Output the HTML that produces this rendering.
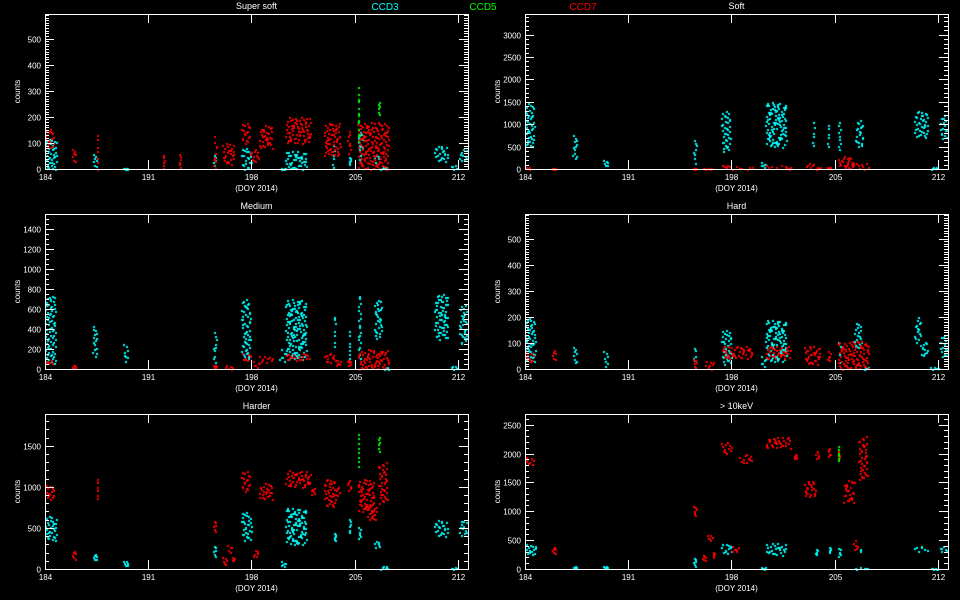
<!DOCTYPE html>
<html><head><meta charset="utf-8"><style>
html,body{margin:0;padding:0;background:#000;width:960px;height:600px;overflow:hidden}
#wrap{position:relative;width:960px;height:600px}
canvas,svg{position:absolute;left:0;top:0}
text{font-family:"Liberation Sans",sans-serif;fill:#fff}
</style></head><body>
<div id="wrap">
<canvas id="pts" width="960" height="600"></canvas>
<svg id="ax" width="960" height="600"></svg>
</div>
<script>
// ---- data ----
const panelTitles=["Super soft","Soft","Medium","Hard","Harder","> 10keV"];
const yMax=[594,3460,1550,594,1886,2685];
const yMajor=[100,500,200,100,500,500];
const yMinorN=[10,5,4,10,5,5];
const xTicks=[184,191,198,205,212];
const xRange=[184,212.7];
// clusters: [dayStart, dayEnd, low, high]
const cyan0=[[184,184.8,0,120],[187.2,187.5,0,60],[189.3,189.6,0,5],[195.4,195.6,0,60],[197.3,198,0,80],[199.9,200.3,0,5],[200.3,201.7,0,70],[203.5,203.6,0,100],[204.6,204.7,20,50],[205.2,205.5,30,150],[206.3,206.7,20,60],[206.7,207.3,0,10],[210.4,211.3,30,90],[211.5,212,0,15],[212.1,212.6,30,80]];
const red0=[[184,184.6,80,160],[185.8,186.1,20,80],[187.5,187.55,0,130],[192,192.05,0,60],[193.1,193.15,0,60],[195.4,195.6,0,130],[196,196.8,20,100],[197.3,197.9,100,180],[197.9,198.5,30,80],[198.5,199.4,80,170],[200.3,202,100,200],[202.9,204,50,180],[204.5,204.7,50,150],[205.2,207.3,0,180]];
const green0=[[205.2,205.25,100,340],[206.6,206.65,200,270]];
const cyan1=[[184,184.6,500,1500],[187.2,187.5,200,800],[189.3,189.6,50,200],[195.4,195.6,100,700],[197.3,197.9,400,1300],[199.9,200.3,50,150],[200.3,201.7,500,1500],[203.5,203.6,500,1100],[204.5,204.6,500,1100],[205.2,205.4,400,1100],[206.4,206.9,500,1100],[211.5,212,0,50],[210.4,211.3,700,1300],[212.1,212.6,700,1200]];
const red1=[[184,184.4,0,60],[185.8,186.1,0,30],[195.4,195.6,0,30],[196,196.8,0,30],[197.3,197.9,30,100],[198,199.4,0,80],[200.3,201.7,30,100],[201.7,202,0,60],[202.9,203.7,50,150],[203.7,204,0,50],[204.5,204.7,0,60],[205.2,206.3,50,300],[205.6,207.3,0,150]];
const green1=[];
const cyan2=[[184,184.7,50,750],[187.2,187.5,100,450],[189.3,189.6,80,250],[195.4,195.6,50,400],[197.3,197.9,100,700],[199.9,200.3,80,200],[200.3,201.7,100,700],[203.6,203.65,200,550],[204.6,204.65,100,450],[205.2,205.4,100,750],[206.3,206.8,300,700],[207,207.3,0,20],[210.4,211.3,300,750],[211.5,212,0,30],[212.1,212.6,250,650]];
const red2=[[184,184.6,50,100],[185.8,186.1,0,50],[195.4,195.6,0,40],[196.2,196.8,0,40],[197.3,198,80,160],[198,198.5,20,80],[198.5,199.4,70,140],[200.3,202,90,160],[202.9,203.7,70,170],[203.7,204,30,100],[204.5,204.7,30,100],[205.2,207.3,0,200]];
const green2=[];
const cyan3=[[184,184.7,30,200],[187.2,187.5,20,90],[189.3,189.6,10,70],[195.4,195.6,0,90],[197.3,198,20,150],[199.9,200.3,10,50],[200.3,201.7,30,190],[205.2,205.4,20,110],[206.3,206.8,80,180],[207,207.3,0,10],[210.4,210.8,100,200],[210.8,211.3,50,110],[211.5,212,0,10],[212.1,212.6,50,130]];
const red3=[[184,184.6,30,70],[185.8,186.1,30,80],[195.4,195.6,0,40],[196.2,196.8,0,35],[197.3,199.4,40,90],[200.3,202,40,90],[202.9,204,20,90],[204.5,204.7,30,70],[205.2,207.3,0,110]];
const green3=[];
const cyan4=[[184,184.8,350,650],[187.2,187.5,100,200],[189.3,189.6,30,100],[195.4,195.6,150,300],[197.3,198,350,700],[199.9,200.3,30,100],[200.3,201.7,300,750],[203.6,203.7,350,450],[204.6,204.7,450,650],[205.2,205.4,350,550],[206.3,206.7,250,350],[206.7,207.3,0,40],[210.4,211.3,400,600],[211.5,212,0,20],[212.1,212.6,400,600]];
const red4=[[184,184.6,850,1050],[185.8,186.1,100,250],[187.5,187.55,800,1100],[195.4,195.6,450,600],[196,196.3,50,150],[196.3,196.6,200,300],[196.7,196.8,100,150],[197.3,197.9,950,1200],[198,198.5,150,250],[198.5,199.4,850,1050],[200.3,202,1000,1200],[202,202.3,900,1000],[202.9,203.7,750,1100],[203.7,204,900,1000],[204.5,204.7,950,1100],[205.2,206.3,700,1100],[205.8,206.5,600,800],[206.6,207.2,800,1300]];
const green4=[[205.2,205.25,1200,1700],[206.6,206.65,1400,1650]];
const cyan5=[[184,184.8,250,450],[187.2,187.5,0,60],[189.3,189.6,0,50],[195.4,195.6,50,200],[197.3,198,250,450],[199.9,200.3,0,40],[200.3,201.7,250,450],[203.7,203.8,250,350],[204.6,204.7,300,400],[205.2,205.4,200,400],[206.3,207.3,0,30],[206.7,206.75,300,350],[210.4,211.3,300,400],[211.5,212,0,20],[212.1,212.6,300,400]];
const red5=[[184,184.6,1800,1950],[185.8,186.1,250,400],[195.4,195.6,900,1100],[196,196.3,150,250],[196.3,196.7,500,600],[196.7,196.8,200,300],[197.3,198,2000,2200],[198,198.5,300,400],[198.5,199.4,1850,2000],[200.3,202,2100,2300],[202.2,202.4,1900,2000],[202.9,203.7,1250,1550],[203.7,203.9,1900,2050],[204.5,204.7,1950,2100],[205.2,205.3,1900,2100],[205.6,206.3,1150,1550],[206.2,206.6,350,500],[206.6,207.2,1550,2300]];
const green5=[[205.2,205.25,1850,2200]];
const cyanSets=[cyan0,cyan1,cyan2,cyan3,cyan4,cyan5];
const redSets=[red0,red1,red2,red3,red4,red5];
const greenSets=[green0,green1,green2,green3,green4,green5];

// ---- layout ----
const colX=[45,525], rowY=[14,214,414], PW=423, PH=155;
function frame(p){return {x:colX[p%2],y:rowY[Math.floor(p/2)]};}
function xScale(p,d){const f=frame(p);return f.x+(d-xRange[0])/(xRange[1]-xRange[0])*PW;}
function yScale(p,v){const f=frame(p);return f.y+PH-v/yMax[p]*PH;}
function halton(i,b){let f=1,r=0;while(i>0){f/=b;r+=f*(i%b);i=Math.floor(i/b);}return r;}

const ctx=document.getElementById('pts').getContext('2d');
ctx.fillStyle='#000';ctx.fillRect(0,0,960,600);
function drawClusters(p,set,color){
  ctx.fillStyle=color;
  set.forEach((c,i)=>{
    const wpx=Math.max(2,xScale(p,c[1])-xScale(p,c[0]));
    const hpx=Math.max(2,yScale(p,c[2])-yScale(p,c[3]));
    const n=Math.max(6,Math.min(220,Math.round(wpx*hpx*0.1)));
    for(let k=1;k<=n;k++){
      const u=halton(k+i*37,2), v=halton(k+i*37,3);
      const d=c[0]+u*(c[1]-c[0]), val=c[2]+v*(c[3]-c[2]);
      ctx.fillRect(Math.round(xScale(p,d)),Math.round(yScale(p,val)),2,2);
    }
  });
}
for(let p=0;p<6;p++){
  drawClusters(p,cyanSets[p],'#00ffff');
  drawClusters(p,redSets[p],'#ff0000');
  drawClusters(p,greenSets[p],'#00ff00');
}

const NS='http://www.w3.org/2000/svg', svg=document.getElementById('ax');
function mk(tag,attrs,parent){const e=document.createElementNS(NS,tag);for(const k in attrs)e.setAttribute(k,attrs[k]);(parent||svg).appendChild(e);return e;}
function txt(s,x,y,anchor,parent,color){const t=mk('text',{x:x,y:y,'text-anchor':anchor||'middle','font-size':'9'},parent);if(color)t.style.fill=color;t.textContent=s;return t;}

for(let p=0;p<6;p++){
  const f=frame(p);
  const g=mk('g',{});
  
  
  const r=mk('rect',{x:f.x+0.5,y:f.y+0.5,width:PW,height:PH,fill:'none',stroke:'#fff','stroke-width':1},g);
  
  
  const t=txt(panelTitles[p],f.x+PW/2,f.y-5,'middle',g);
  
  
  let path='';
  const minor=yMajor[p]/yMinorN[p];
  for(let v=0;v<=yMax[p];v+=minor){
    const y=Math.round(yScale(p,v))+0.5;
    const major=Math.abs(v/yMajor[p]-Math.round(v/yMajor[p]))<1e-6;
    const L=major?9:4;
    path+=`M${f.x} ${y}h${L}M${f.x+PW} ${y}h${-L}`;
    if(major){
      const tl=txt(String(Math.round(v)),f.x-4,y+3,'end',g);
      tl.setAttribute('font-size','8');
      
      
    }
  }
  xTicks.forEach(d=>{
    const x=Math.round(xScale(p,d))+0.5;
    path+=`M${x} ${f.y+PH}v-9M${x} ${f.y}v9`;
    const xl=txt(String(d),x,f.y+PH+11,'middle',g);
    xl.setAttribute('font-size','8');
    
    
  });
  const tk=mk('path',{d:path,stroke:'#fff','stroke-width':1,fill:'none'},g);
  
  
  const xt=txt('(DOY 2014)',f.x+PW/2,f.y+PH+22,'middle',g);
  xt.setAttribute('font-size','8');
  
  
  const yt=txt('counts',0,0,'middle',g);
  yt.setAttribute('font-size','8');
  yt.setAttribute('transform',`translate(${f.x-25},${f.y+PH/2}) rotate(-90)`);
  
  
}
const legend=[["CCD3","#00ffff",385],["CCD5","#00ff00",483],["CCD7","#ff0000",583]];
legend.forEach(l=>{
  const e=txt(l[0],l[2],10,'middle',svg,l[1]);
  e.setAttribute('font-size','10');
  
  
});
</script>
</body></html>
